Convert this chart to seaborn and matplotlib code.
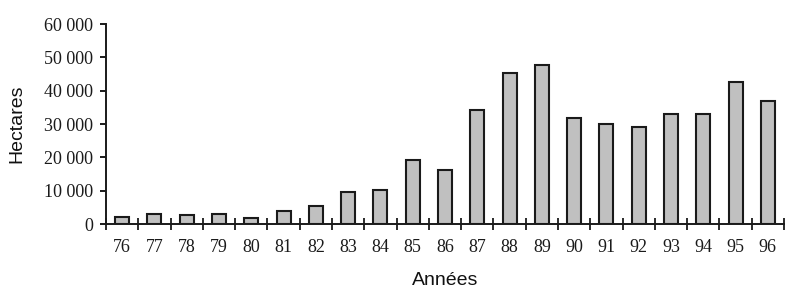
import matplotlib
matplotlib.use("Agg")
import matplotlib.pyplot as plt
import seaborn as sns
import pandas as pd
import numpy as np
from matplotlib.ticker import FixedLocator, FuncFormatter

years = ["76", "77", "78", "79", "80", "81", "82", "83", "84", "85", "86",
         "87", "88", "89", "90", "91", "92", "93", "94", "95", "96"]
hectares = [2200, 3100, 2700, 3100, 1800, 4000, 5400, 9700, 10200, 19300, 16300,
            34300, 45200, 47800, 31700, 29900, 29000, 33000, 33000, 42700, 36900]
y_ticks = [0, 10000, 20000, 30000, 40000, 50000, 60000]

df = pd.DataFrame({"Années": years, "Hectares": hectares})

sns.set_theme(style="ticks")
plt.rcParams["font.family"] = ["Liberation Sans", "DejaVu Sans"]

fig = plt.figure(figsize=(8, 2.91), dpi=100)
ax = fig.add_axes([0.1325, 0.2302, 0.98 - 0.1325, 0.9175 - 0.2302])

sns.barplot(data=df, x="Années", y="Hectares", ax=ax, color="#c0c0c0",
            edgecolor="#1a1a1a", linewidth=1.5, width=0.43, saturation=1)

ax.set_xlim(-0.5, len(years) - 0.5)
ax.set_ylim(0, 60000)

for s in ["top", "right"]:
    ax.spines[s].set_visible(False)
for s in ["left", "bottom"]:
    ax.spines[s].set_linewidth(1.4)
    ax.spines[s].set_color("#1a1a1a")

ax.set_yticks(y_ticks)
ax.yaxis.set_major_formatter(FuncFormatter(lambda v, p: f"{int(v):,}".replace(",", " ")))
ax.tick_params(axis="y", direction="out", length=4.5, width=1.4, color="#1a1a1a",
               pad=5, labelsize=13, labelcolor="#1a1a1a")
for lab in ax.get_yticklabels():
    lab.set_family(["Liberation Serif", "DejaVu Serif"])
    lab.set_fontsize(13)

ax.xaxis.set_minor_locator(FixedLocator(np.arange(-0.5, len(years), 1.0)))
ax.tick_params(axis="x", which="major", length=0, pad=11, labelsize=13,
               labelcolor="#1a1a1a")
ax.tick_params(axis="x", which="minor", direction="inout", length=9, width=1.3,
               color="#1a1a1a")
for lab in ax.get_xticklabels():
    lab.set_family(["Liberation Serif", "DejaVu Serif"])
    lab.set_fontsize(13)

ax.set_xlabel("Années", fontsize=14, color="#111111", labelpad=11)
ax.set_ylabel("Hectares", fontsize=14, color="#111111", labelpad=13)

fig.savefig("out.png", dpi=100, facecolor="white")
